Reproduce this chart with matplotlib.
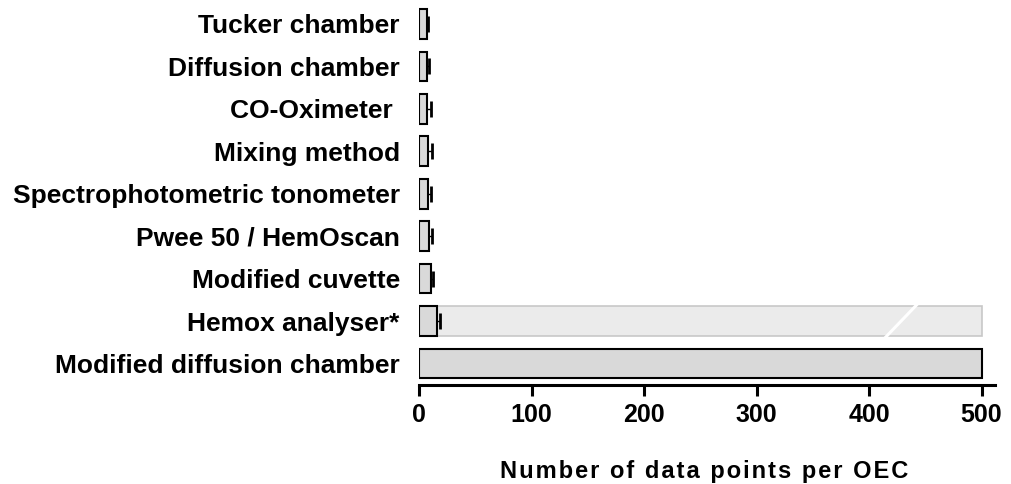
import matplotlib.pyplot as plt
import numpy as np

plt.rcParams['font.family'] = ['Liberation Sans', 'DejaVu Sans']

# Metodos, de arriba hacia abajo
methods = ['Tucker chamber', 'Diffusion chamber', 'CO-Oximeter ', 'Mixing method',
           'Spectrophotometric tonometer', 'Pwee 50 / HemOscan', 'Modified cuvette',
           'Hemox analyser*', 'Modified diffusion chamber']
means = [7, 7, 7, 8, 8, 9, 10, 16, 500]
sds = [1, 2, 3, 3.5, 2, 2.5, 2.5, 2, 0]
hemox_full = 500   # barra de fondo del Hemox (eje cortado)

n = len(methods)
ypos = np.arange(n)[::-1]

fig = plt.figure(figsize=(10.12, 4.84), dpi=100)
ax = fig.add_axes([0.4143, 0.2045, 0.5689, 0.7955])

# barra de fondo para el Hemox, con la marca de corte
hi = methods.index('Hemox analyser*')
ax.barh(ypos[hi], hemox_full, height=0.7, color='#ebebeb', edgecolor='#c8c8c8',
        linewidth=1.2, zorder=1)
ax.plot([414, 443], [ypos[hi] - 0.4, ypos[hi] + 0.4], color='white', lw=2.2,
        zorder=2, solid_capstyle='butt')

ax.barh(ypos, means, height=0.7, color='#d9d9d9', edgecolor='black',
        linewidth=1.5, zorder=3)

# solo la parte superior del error (media + SD)
m = np.array(sds) > 0
eb = ax.errorbar(np.array(means)[m], ypos[m], xerr=[np.zeros(m.sum()), np.array(sds)[m]],
                 fmt='none', ecolor='black', elinewidth=1.0, capsize=5.5, capthick=2,
                 zorder=4)
eb[1][0].set_visible(False)

ax.set_yticks(ypos)
ax.set_yticklabels(methods, fontsize=19, fontweight='bold')
ax.tick_params(axis='y', length=0, pad=14)
ax.set_xlim(0, 512)
ax.set_ylim(-0.507, 8.565)
ax.set_xticks([0, 100, 200, 300, 400, 500])
ax.set_xticklabels(['0', '100', '200', '300', '400', '500'], fontsize=18, fontweight='bold')
ax.tick_params(axis='x', length=8, width=2.2, pad=5)

xlabel = '\u200a'.join('Number of data points per OEC')
ax.set_xlabel(xlabel, fontsize=17, fontweight='bold')
ax.xaxis.set_label_coords(0.495, -0.195)

for s in ['top', 'right', 'left']:
    ax.spines[s].set_visible(False)
ax.spines['bottom'].set_linewidth(2.2)

fig.savefig('out.png', dpi=100)
